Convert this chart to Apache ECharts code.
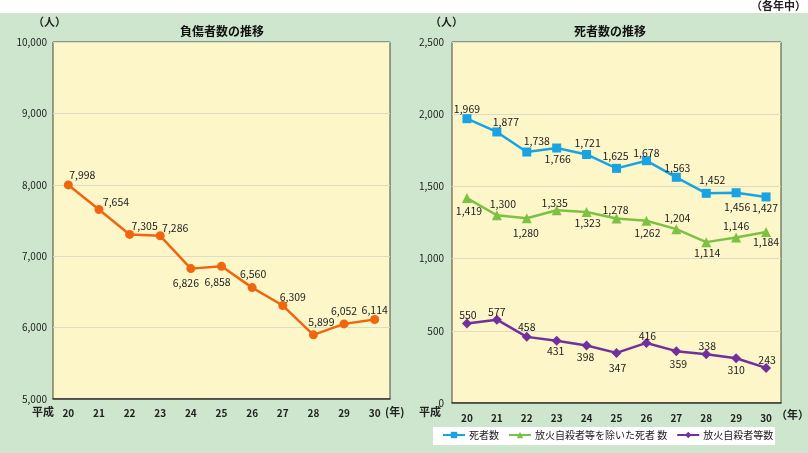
<!DOCTYPE html>
<html><head><meta charset="utf-8">
<script src="https://cdn.jsdelivr.net/npm/echarts@6/dist/echarts.min.js"></script>
<style>html,body{margin:0;padding:0;background:#fff}#c{width:808px;height:453px}</style>
</head><body><div id="c"></div>
<script>
var years = ['20','21','22','23','24','25','26','27','28','29','30'];
var injured = [7998,7654,7305,7286,6826,6858,6560,6309,5899,6052,6114];
var deaths = [1969,1877,1738,1766,1721,1625,1678,1563,1452,1456,1427];
var deathsExcl = [1419,1300,1280,1335,1323,1278,1262,1204,1114,1146,1184];
var arson = [550,577,458,431,398,347,416,359,338,310,243];

// label placement (offset from point centre), layout only
var offInjured = [[14,-10],[17,-7],[15,-8],[15,-8],[-5,14],[-4,16],[1,-14],[10,-9],[8,-13],[0,-13],[0,-9]];
var offDeaths = [[0,-10],[9,-10],[10,-11],[1,11],[1,-11],[-1,-12],[0,-8],[1,-9],[6,-13],[1,14],[-1,11]];
var offExcl = [[2,13],[6,-11],[-1,15],[-2,-7],[1,11],[-1,-8],[1,12],[1,-11],[1,11],[0,-12],[0,10]];
var offArson = [[1,-9],[0,-8],[0,-10],[-1,10],[-1,11],[1,15],[1,-7],[2,13],[1,-8],[0,12],[1,-8]];

var FONT = '"Noto Sans CJK JP", "Noto Sans", sans-serif';
function fmt(v){ return String(v).replace(/\B(?=(\d{3})+(?!\d))/g, ','); }
function withLabels(vals, offs){
  return vals.map(function(v,i){
    return {value: v, label: {offset: offs[i]}};
  });
}
var labelBase = {show:true, position:'inside', fontSize:10.5, color:'#222', fontFamily:FONT,
  formatter:function(p){return fmt(p.value);}};

var chart = echarts.init(document.getElementById('c'));
var axisLabelStyle = {fontSize:10, color:'#222', fontFamily:FONT};
chart.setOption({
  backgroundColor:'#ffffff',
  animation:false,
  textStyle:{fontFamily:FONT},
  graphic:[
    {type:'rect', shape:{x:0,y:13,width:808,height:440}, style:{fill:'#cde6cd'}, z:-10},
    {type:'rect', shape:{x:433,y:427,width:342,height:18}, style:{fill:'#ffffff'}, z:-5},
    {type:'text', left:751, top:0, style:{text:'（各年中）', font:'bold 11px '+FONT, fill:'#222'}},
    {type:'text', left:33, top:16, style:{text:'（人）', font:'bold 11px '+FONT, fill:'#222'}},
    {type:'text', left:430, top:16, style:{text:'（人）', font:'bold 11px '+FONT, fill:'#222'}},
    {type:'text', left:180, top:25, style:{text:'負傷者数の推移', font:'bold 12px '+FONT, fill:'#111'}},
    {type:'text', left:574, top:25, style:{text:'死者数の推移', font:'bold 12px '+FONT, fill:'#111'}},
    {type:'text', left:32, top:406, style:{text:'平成', font:'bold 11px '+FONT, fill:'#222'}},
    {type:'text', left:419, top:406, style:{text:'平成', font:'bold 11px '+FONT, fill:'#222'}},
    {type:'text', left:385, top:406, style:{text:'(年)', font:'bold 11px '+FONT, fill:'#222'}},
    {type:'text', left:776, top:409, style:{text:'（年）', font:'bold 11px '+FONT, fill:'#222'}}
  ],
  grid:[
    {left:53, top:42, width:337, height:357, show:true, backgroundColor:'#fcf6c8', borderColor:'#4a4a3a', borderWidth:1},
    {left:452, top:42, width:329, height:361, show:true, backgroundColor:'#fcf6c8', borderColor:'#4a4a3a', borderWidth:1}
  ],
  xAxis:[
    {gridIndex:0, type:'category', data:years, boundaryGap:true,
      axisLine:{lineStyle:{color:'#333', width:1.5}},
      axisTick:{inside:true, length:4, lineStyle:{color:'#333'}},
      axisLabel:Object.assign({margin:9, fontWeight:'bold'}, axisLabelStyle)},
    {gridIndex:1, type:'category', data:years, boundaryGap:true,
      axisLine:{lineStyle:{color:'#333', width:1.5}},
      axisTick:{inside:true, length:4, lineStyle:{color:'#333'}},
      axisLabel:Object.assign({margin:10, fontWeight:'bold'}, axisLabelStyle)}
  ],
  yAxis:[
    {gridIndex:0, type:'value', min:5000, max:10000, interval:1000,
      axisLine:{show:false}, axisTick:{show:false},
      splitLine:{lineStyle:{color:'#dedbc6', width:1}},
      axisLabel:Object.assign({margin:6, formatter:fmt}, axisLabelStyle)},
    {gridIndex:1, type:'value', min:0, max:2500, interval:500,
      axisLine:{show:false}, axisTick:{show:false},
      splitLine:{lineStyle:{color:'#dedbc6', width:1}},
      axisLabel:Object.assign({margin:8, formatter:fmt}, axisLabelStyle)}
  ],
  legend:{
    left:442, top:430, orient:'horizontal',
    padding:0,
    itemWidth:22, itemHeight:8, itemGap:9,
    textStyle:{fontSize:10, color:'#222', fontFamily:FONT, padding:[0,0,0,-1]},
    data:['死者数','放火自殺者等を除いた死者 数','放火自殺者等数']
  },
  series:[
    {name:'負傷者数', type:'line', xAxisIndex:0, yAxisIndex:0, data:withLabels(injured, offInjured),
      symbol:'circle', symbolSize:9, lineStyle:{color:'#f0660e', width:2.5},
      itemStyle:{color:'#f0660e'}, label:labelBase},
    {name:'死者数', type:'line', xAxisIndex:1, yAxisIndex:1, data:withLabels(deaths, offDeaths),
      symbol:'rect', symbolSize:9, lineStyle:{color:'#18a3e3', width:2.5},
      itemStyle:{color:'#18a3e3'}, label:labelBase},
    {name:'放火自殺者等を除いた死者 数', type:'line', xAxisIndex:1, yAxisIndex:1, data:withLabels(deathsExcl, offExcl),
      symbol:'triangle', symbolSize:10, lineStyle:{color:'#7cc242', width:2.5},
      itemStyle:{color:'#7cc242'}, label:labelBase},
    {name:'放火自殺者等数', type:'line', xAxisIndex:1, yAxisIndex:1, data:withLabels(arson, offArson),
      symbol:'diamond', symbolSize:10, lineStyle:{color:'#722f9e', width:2.5},
      itemStyle:{color:'#722f9e'}, label:labelBase}
  ]
});
</script></body></html>
